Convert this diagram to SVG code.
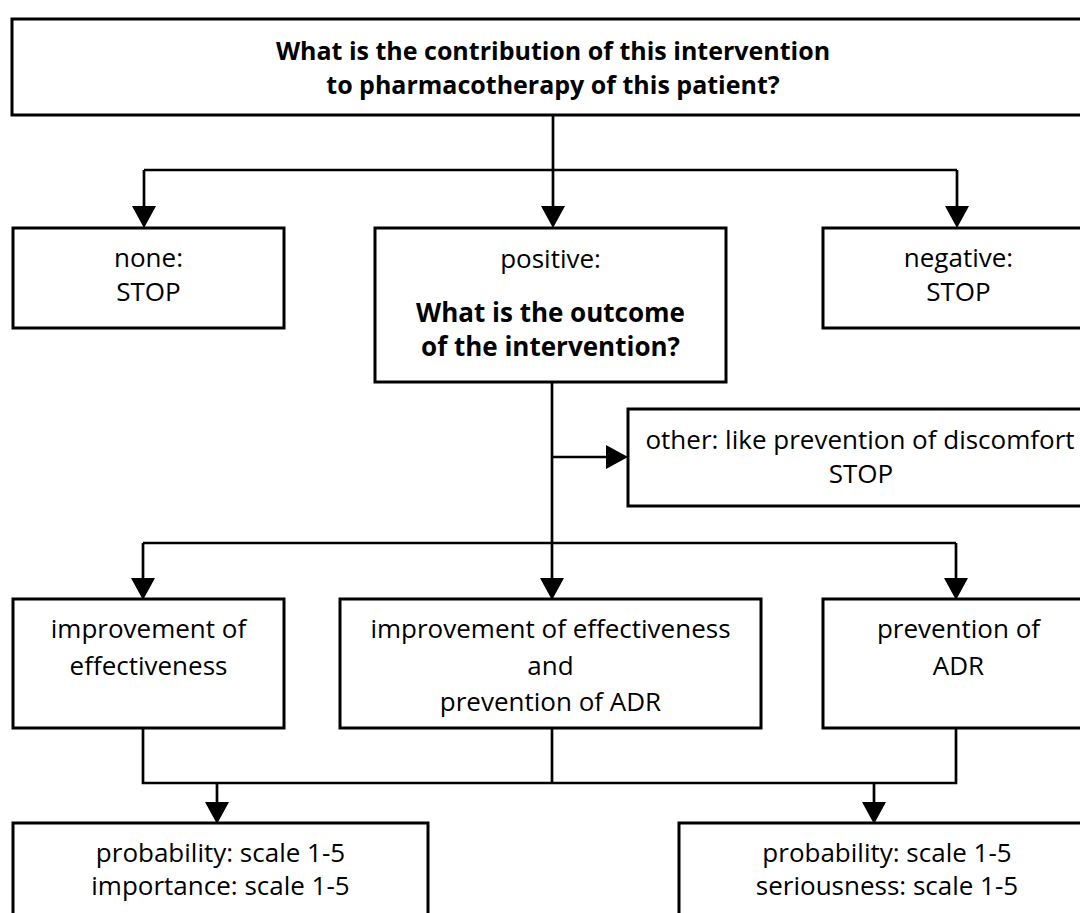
<svg xmlns="http://www.w3.org/2000/svg" width="1080" height="913" viewBox="0 0 1080 913">
  <style>
    .box { fill: #ffffff; stroke: #000000; stroke-width: 3; }
    .t { font-family: "Open Sans", "Noto Sans", "Liberation Sans", sans-serif; font-size: 26px; fill: #000000; text-anchor: middle; }
    .b { font-weight: bold; }
    .h { font-size: 25px; }
    .c { fill: none; stroke: #000000; stroke-width: 2.7; }
  </style>
  <defs>
    <marker id="ah" markerUnits="userSpaceOnUse" markerWidth="22" markerHeight="24" refX="0" refY="12" orient="auto" viewBox="0 0 22 24">
      <path d="M0,0 L22,12 L0,24 Z" fill="#000000"/>
    </marker>
  </defs>
  <rect width="1080" height="913" fill="#ffffff"/>

  <g id="connectors">
    <path class="c" d="M553,115 V170"/>
    <path class="c" d="M144,170 H957"/>
    <path class="c" d="M144,170 V206" marker-end="url(#ah)"/>
    <path class="c" d="M553,170 V206" marker-end="url(#ah)"/>
    <path class="c" d="M957,170 V206" marker-end="url(#ah)"/>
    <path class="c" d="M552,382 V543"/>
    <path class="c" d="M552,457 H606" marker-end="url(#ah)"/>
    <path class="c" d="M143,543 H956"/>
    <path class="c" d="M143,543 V578" marker-end="url(#ah)"/>
    <path class="c" d="M552,543 V578" marker-end="url(#ah)"/>
    <path class="c" d="M956,543 V578" marker-end="url(#ah)"/>
    <path class="c" d="M143,728 V783 H956 V728"/>
    <path class="c" d="M552,728 V783"/>
    <path class="c" d="M217,783 V802" marker-end="url(#ah)"/>
    <path class="c" d="M874,783 V802" marker-end="url(#ah)"/>
  </g>

  <g id="n-question">
    <rect class="box" x="12" y="19" width="1082" height="96"/>
    <text class="t b h" x="553" y="60">What is the contribution of this intervention</text>
    <text class="t b h" x="553" y="94">to pharmacotherapy of this patient?</text>
  </g>

  <g id="n-none">
    <rect class="box" x="13" y="228" width="271" height="100"/>
    <text class="t" x="148.5" y="267">none:</text>
    <text class="t" x="148.5" y="301">STOP</text>
  </g>

  <g id="n-positive">
    <rect class="box" x="375" y="228" width="351" height="154"/>
    <text class="t" x="550.5" y="268">positive:</text>
    <text class="t b" x="550.5" y="322">What is the outcome</text>
    <text class="t b" x="550.5" y="356">of the intervention?</text>
  </g>

  <g id="n-negative">
    <rect class="box" x="823" y="228" width="271" height="100"/>
    <text class="t" x="958.5" y="267">negative:</text>
    <text class="t" x="958.5" y="301">STOP</text>
  </g>

  <g id="n-other">
    <rect class="box" x="628" y="409" width="466" height="97"/>
    <text class="t" x="860" y="449">other: like prevention of discomfort</text>
    <text class="t" x="861" y="483">STOP</text>
  </g>

  <g id="n-effectiveness">
    <rect class="box" x="13" y="599" width="271" height="129"/>
    <text class="t" x="148.5" y="638">improvement of</text>
    <text class="t" x="148.5" y="675">effectiveness</text>
  </g>

  <g id="n-both">
    <rect class="box" x="340" y="599" width="421" height="129"/>
    <text class="t" x="550.5" y="638">improvement of effectiveness</text>
    <text class="t" x="550.5" y="675">and</text>
    <text class="t" x="550.5" y="711">prevention of ADR</text>
  </g>

  <g id="n-adr">
    <rect class="box" x="823" y="599" width="271" height="129"/>
    <text class="t" x="958.5" y="638">prevention of</text>
    <text class="t" x="958.5" y="675">ADR</text>
  </g>

  <g id="n-importance">
    <rect class="box" x="13" y="823" width="415" height="110"/>
    <text class="t" x="220.5" y="862">probability: scale 1-5</text>
    <text class="t" x="220.5" y="895">importance: scale 1-5</text>
  </g>

  <g id="n-seriousness">
    <rect class="box" x="679" y="823" width="416" height="110"/>
    <text class="t" x="887" y="862">probability: scale 1-5</text>
    <text class="t" x="887" y="895">seriousness: scale 1-5</text>
  </g>
</svg>
